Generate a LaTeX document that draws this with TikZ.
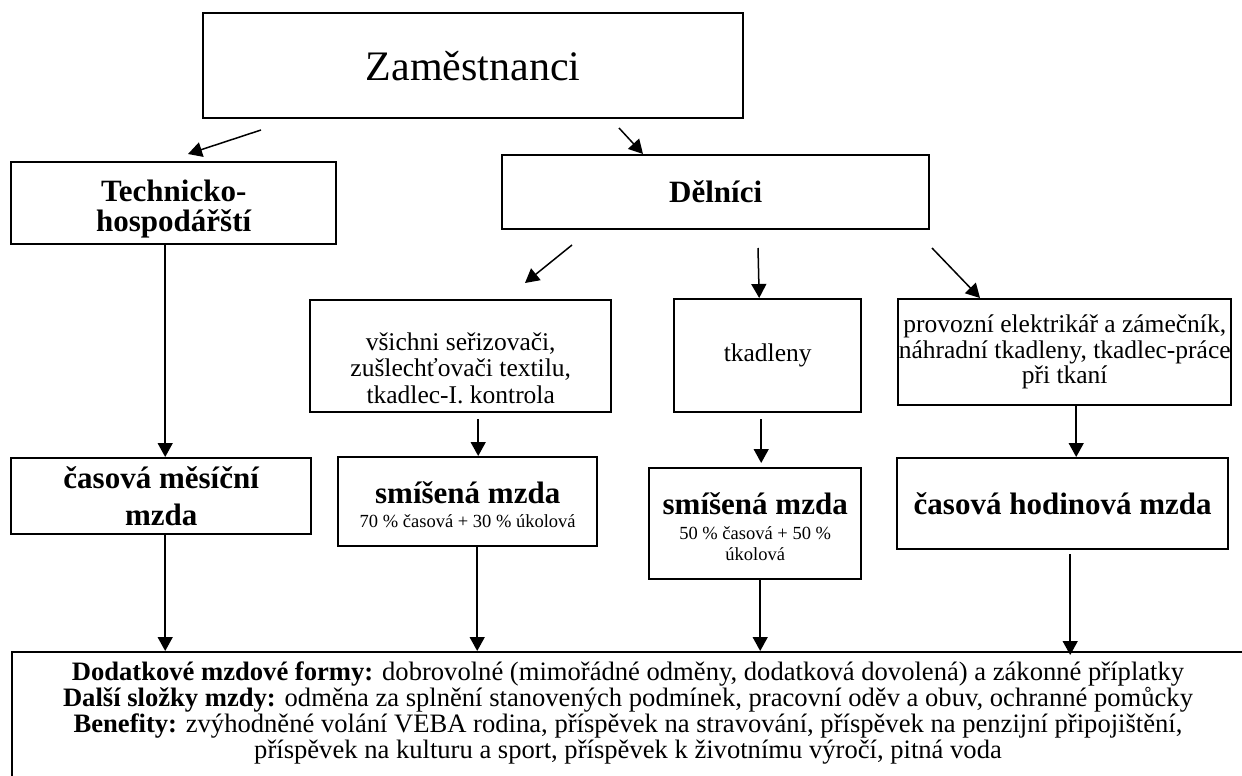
\documentclass[tikz,border=0pt]{standalone}
\usepackage{fontspec}
\setmainfont{Liberation Serif}
\usetikzlibrary{arrows.meta}
\begin{document}
\begin{tikzpicture}[x=1pt,y=-1pt,
  box/.style={draw, line width=2.4pt, inner sep=0pt, align=center, anchor=north west},
  label/.style={inner sep=0pt, align=center},
  arr/.style={line width=1.5pt, -{Triangle[length=14pt,width=15pt]}},
  reg/.style={font=\fontsize{25.5}{25.5}\selectfont},
  hd/.style={font=\bfseries\fontsize{31}{30}\selectfont},
]
\useasboundingbox (0,0) rectangle (1242,776);

% top level
\node[box, minimum width=540pt, minimum height=105pt,
      font=\fontsize{42}{48}\selectfont] (zam) at (202,12) {Zaměstnanci};

% second level
\node[box, minimum width=325pt, minimum height=82pt] (tech) at (10,161) {};
\node[label, hd] (techtext) at ([yshift=-6pt]tech.center) {Technicko-\\hospodářští};
\node[box, hd, minimum width=427pt, minimum height=74pt] (del) at (501,154) {Dělníci};

% worker groups
\node[box, minimum width=301pt, minimum height=112pt] (grpA) at (309,299) {};
\node[label, font=\fontsize{25.5}{26.5}\selectfont] (grpAtext) at ([yshift=-12pt]grpA.center)
  {všichni seřizovači,\\zušlechťovači textilu,\\tkadlec-I. kontrola};
\node[box, reg, minimum width=187pt, minimum height=113pt] (grpB) at (673,298) {tkadleny};
\node[box, reg, minimum width=333pt, minimum height=106pt] (grpC) at (897,298)
  {provozní elektrikář a zámečník,\\náhradní tkadleny, tkadlec-práce\\při tkaní};

% wage forms
\node[box, minimum width=300pt, minimum height=76pt,
      font=\bfseries\fontsize{31}{37}\selectfont] (cmm) at (10,457)
  {časová měsíční\\mzda};
\node[box, minimum width=259pt, minimum height=89pt] (mzA) at (337,456) {};
\node[label, font=\fontsize{18.5}{24}\selectfont] (mzAtext) at ([yshift=-3pt]mzA.center)
  {{\bfseries\fontsize{31}{31}\selectfont smíšená mzda}\\70 \% časová + 30 \% úkolová};
\node[box, minimum width=212pt, minimum height=111pt] (mzB) at (648,467) {};
\node[label, font=\fontsize{18.5}{25}\selectfont] (mzBtext) at ([yshift=-3pt]mzB.center)
  {{\bfseries\fontsize{31}{31}\selectfont smíšená mzda}\\50 \% časová + 50 \%\\[-4pt]úkolová};
\node[box, hd, minimum width=331pt, minimum height=91pt] (hod) at (896,457)
  {časová hodinová mzda};

% common supplements
\node[box, minimum width=1234pt, minimum height=200pt] (big) at (11,651) {};
\node[label, anchor=north, font=\fontsize{26.6}{26}\selectfont] (bigtext) at (628,662)
  {\textbf{Dodatkové mzdové formy:} dobrovolné (mimořádné odměny, dodatková dovolená) a zákonné příplatky\\
   \textbf{Další složky mzdy:} odměna za splnění stanovených podmínek, pracovní oděv a obuv, ochranné pomůcky\\
   \textbf{Benefity:} zvýhodněné volání VEBA rodina, příspěvek na stravování, příspěvek na penzijní připojištění,\\
   příspěvek na kulturu a sport, příspěvek k životnímu výročí, pitná voda};

% free arrow ends
\coordinate (a1s) at (261,130);
\coordinate (a1e) at (188,154);
\coordinate (a2s) at (619,128);
\coordinate (a2e) at (643,154);
\coordinate (a3s) at (572,245);
\coordinate (a3e) at (525,283);
\coordinate (a4s) at (758,248);
\coordinate (a5s) at (932,248);
\coordinate (a5e) at (980,298);

% connectors
\draw[arr] (a1s) -- (a1e);
\draw[arr] (a2s) -- (a2e);
\draw[arr] (a3s) -- (a3e);
\draw[arr] (a4s) -- ([xshift=-8.5pt]grpB.north);
\draw[arr] (a5s) -- (a5e);

\draw[arr] ([xshift=-8.5pt]tech.south) -- ([xshift=4pt]cmm.north);
\draw[arr] ([xshift=17.5pt,yshift=-6pt]grpA.south) -- ([xshift=10.5pt]mzA.north);
\draw[arr] ([xshift=-6.5pt,yshift=-6pt]grpB.south) -- ([xshift=6pt,yshift=4pt]mzB.north);
\draw[arr] ([xshift=11.5pt]grpC.south) -- ([xshift=13.5pt]hod.north);

\draw[arr] ([xshift=4pt]cmm.south) -- ([xshift=4pt]cmm.south |- big.north);
\draw[arr] ([xshift=9.5pt]mzA.south) -- ([xshift=9.5pt]mzA.south |- big.north);
\draw[arr] ([xshift=5pt]mzB.south) -- ([xshift=5pt]mzB.south |- big.north);
\draw[arr] ([xshift=7.5pt,yshift=-4pt]hod.south) -- ([xshift=7.5pt,yshift=-4pt]hod.south |- big.north);
\end{tikzpicture}
\end{document}
